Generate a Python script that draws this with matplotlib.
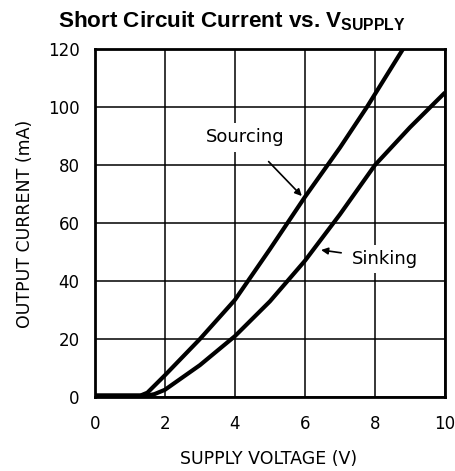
import matplotlib
matplotlib.use("Agg")
import matplotlib.pyplot as plt

# Data
v_source = [0.0, 1.3, 1.5, 2.0, 3.0, 4.0, 5.0, 6.0, 7.0, 7.77, 8.8]
i_source = [0.5, 0.5, 1.5, 7.5, 20.0, 33.5, 51.0, 69.0, 86.0, 100.0, 120.0]
v_sink = [0.0, 1.5, 1.7, 2.0, 3.0, 4.0, 5.0, 6.0, 7.0, 8.0, 9.0, 10.0]
i_sink = [0.5, 0.5, 1.0, 2.5, 11.0, 21.0, 33.0, 47.0, 63.0, 80.0, 93.0, 105.0]
x_ticks = [0, 2, 4, 6, 8, 10]
y_ticks = [0, 20, 40, 60, 80, 100, 120]

plt.rcParams['mathtext.fontset'] = 'custom'
plt.rcParams['mathtext.bf'] = 'Liberation Sans:bold'
plt.rcParams['mathtext.rm'] = 'Liberation Sans:bold'

fig = plt.figure(figsize=(4.56, 4.71), dpi=100)
ax = fig.add_axes([0.208, 0.157, 0.768, 0.739])

ax.plot(v_source, i_source, color='black', lw=3, solid_capstyle='butt', zorder=3)
ax.plot(v_sink, i_sink, color='black', lw=3, solid_capstyle='butt', zorder=3)

ax.set_xlim(0, 10)
ax.set_ylim(0, 120)
ax.set_xticks(x_ticks)
ax.set_yticks(y_ticks)
ax.tick_params(axis='x', length=0, labelsize=12, pad=13)
ax.tick_params(axis='y', length=0, labelsize=12, pad=11)
ax.grid(True, color='black', lw=1.1)
for s in ax.spines.values():
    s.set_linewidth(2)
    s.set_zorder(4)

fig.text(269 / 456, 1 - 459 / 471, 'SUPPLY VOLTAGE (V)', fontsize=12.5,
         ha='center', va='center')
fig.text(25 / 456, 1 - 224 / 471, 'OUTPUT CURRENT (mA)', fontsize=12.5,
         ha='center', va='center', rotation=90)

ax.annotate('Sourcing', xy=(5.91, 69.3), xytext=(4.29, 89.6), fontsize=13,
            ha='center', va='center',
            bbox=dict(boxstyle='square,pad=0.3', fc='white', ec='none'),
            arrowprops=dict(arrowstyle='-|>', color='black', lw=1.2,
                            mutation_scale=10, shrinkA=10, shrinkB=0),
            zorder=5)
ax.annotate('Sinking', xy=(6.46, 50.7), xytext=(8.29, 47.6), fontsize=13,
            ha='center', va='center',
            bbox=dict(boxstyle='square,pad=0.3', fc='white', ec='none'),
            arrowprops=dict(arrowstyle='-|>', color='black', lw=1.2,
                            mutation_scale=10, shrinkA=4, shrinkB=0),
            zorder=5)

fig.text(0.508, 0.955, r'Short Circuit Current vs. V$_\mathbf{SUPPLY}$',
         ha='center', va='center', fontsize=16.2, fontweight='bold',
         family='Liberation Sans')

fig.savefig('out.png', dpi=100)
